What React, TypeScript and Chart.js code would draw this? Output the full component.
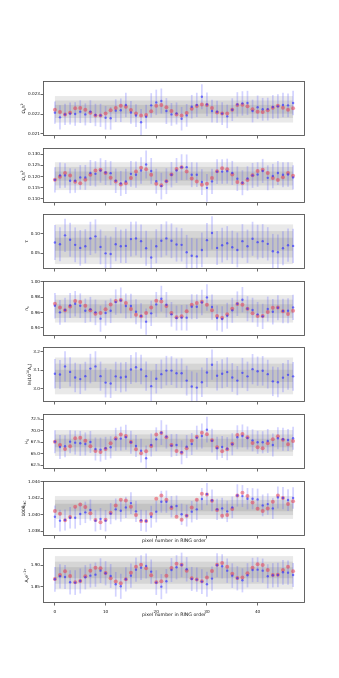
import React, { useEffect, useRef } from 'react';
import { Chart, registerables } from 'chart.js';
Chart.register(...registerables);

const PIXELS = [0,1,2,3,4,5,6,7,8,9,10,11,12,13,14,15,16,17,18,19,20,21,22,23,24,25,26,27,28,29,30,31,32,33,34,35,36,37,38,39,40,41,42,43,44,45,46,47];
const X_TICKS = [0, 10, 20, 30, 40];
const X_LABEL = 'pixel number in RING order';

// Panel 1: Omega_b h^2
const OBH2_BLUE = [0.02207,0.02183,0.02198,0.02202,0.02200,0.02212,0.02198,0.02212,0.02195,0.02193,0.02181,0.02178,0.02217,0.02219,0.02246,0.02208,0.02192,0.02158,0.02186,0.02244,0.02259,0.02266,0.02215,0.02198,0.02203,0.02176,0.02193,0.02237,0.02246,0.02288,0.02249,0.02215,0.02212,0.02202,0.02188,0.02222,0.02249,0.02254,0.02256,0.02215,0.02234,0.02224,0.02225,0.02236,0.02239,0.02246,0.02244,0.02256];
const OBH2_ERR = [0.00057,0.00062,0.00054,0.00056,0.00060,0.00058,0.00056,0.00058,0.00057,0.00059,0.00060,0.00058,0.00058,0.00060,0.00062,0.00058,0.00058,0.00068,0.00061,0.00062,0.00065,0.00064,0.00066,0.00058,0.00056,0.00060,0.00058,0.00060,0.00062,0.00064,0.00060,0.00058,0.00056,0.00058,0.00060,0.00058,0.00062,0.00062,0.00062,0.00058,0.00060,0.00058,0.00058,0.00060,0.00062,0.00062,0.00060,0.00062];
const OBH2_RED = [0.02222,0.02210,0.02198,0.02207,0.02229,0.02230,0.02222,0.02207,0.02193,0.02192,0.02202,0.02219,0.02230,0.02242,0.02237,0.02220,0.02202,0.02192,0.02195,0.02214,0.02242,0.02246,0.02234,0.02215,0.02197,0.02192,0.02205,0.02227,0.02241,0.02249,0.02246,0.02230,0.02208,0.02202,0.02203,0.02222,0.02246,0.02247,0.02239,0.02224,0.02212,0.02210,0.02219,0.02232,0.02242,0.02232,0.02222,0.02229];
const OBH2_TICKS = [0.021, 0.022, 0.023];
const OBH2_BAND = [0.02224, 0.000225];

// Panel 2: Omega_c h^2
const OCH2_BLUE = [0.1185,0.1205,0.1205,0.1181,0.1181,0.1196,0.1196,0.1216,0.1212,0.1227,0.1218,0.1215,0.1181,0.1169,0.1178,0.1212,0.1208,0.1227,0.1254,0.1225,0.1179,0.1157,0.1179,0.1208,0.1227,0.1242,0.1242,0.1208,0.1208,0.1175,0.1149,0.1178,0.1222,0.1222,0.1224,0.1216,0.1190,0.1172,0.1191,0.1205,0.1209,0.1225,0.1194,0.1202,0.1216,0.1208,0.1209,0.1196];
const OCH2_ERR = [0.0057,0.0058,0.0055,0.0056,0.0054,0.0055,0.0056,0.0058,0.0057,0.0055,0.0056,0.0054,0.0055,0.0056,0.0057,0.0058,0.0059,0.0060,0.0063,0.0058,0.0056,0.0060,0.0058,0.0057,0.0056,0.0058,0.0057,0.0056,0.0055,0.0058,0.0062,0.0057,0.0056,0.0055,0.0056,0.0054,0.0055,0.0056,0.0055,0.0056,0.0055,0.0054,0.0056,0.0055,0.0054,0.0056,0.0055,0.0054];
const OCH2_RED = [0.1185,0.1199,0.1216,0.1205,0.1176,0.1170,0.1185,0.1208,0.1227,0.1230,0.1216,0.1194,0.1178,0.1164,0.1170,0.1193,0.1222,0.1239,0.1233,0.1208,0.1167,0.1161,0.1179,0.1209,0.1234,0.1242,0.1222,0.1191,0.1178,0.1163,0.1167,0.1193,0.1224,0.1237,0.1233,0.1209,0.1175,0.1170,0.1184,0.1206,0.1225,0.1230,0.1216,0.1193,0.1184,0.1197,0.1216,0.1203];
const OCH2_TICKS = [0.110, 0.115, 0.120, 0.125, 0.130];
const OCH2_BAND = [0.12016, 0.00209];

// Panel 3: tau
const TAU_BLUE = [0.0772,0.0728,0.0956,0.0842,0.0711,0.0632,0.0675,0.0877,0.0930,0.0658,0.0491,0.0474,0.0728,0.0675,0.0684,0.0860,0.0877,0.0807,0.0623,0.0386,0.0675,0.0816,0.0877,0.0816,0.0719,0.0711,0.0518,0.0430,0.0412,0.0579,0.0833,0.1018,0.0632,0.0702,0.0754,0.0649,0.0579,0.0807,0.0675,0.0868,0.0781,0.0807,0.0737,0.0544,0.0518,0.0623,0.0702,0.0684];
const TAU_ERR = [0.045,0.044,0.043,0.044,0.045,0.046,0.044,0.043,0.044,0.045,0.046,0.045,0.044,0.043,0.044,0.045,0.044,0.043,0.045,0.046,0.044,0.043,0.044,0.045,0.044,0.043,0.045,0.046,0.046,0.045,0.044,0.043,0.044,0.045,0.044,0.043,0.045,0.044,0.043,0.044,0.045,0.044,0.043,0.045,0.046,0.044,0.043,0.044];
const TAU_TICKS = [0.05, 0.10];
const TAU_BAND = [0.0726, 0.0171];

// Panel 4: n_s
const NS_BLUE = [0.9689,0.9603,0.9633,0.9693,0.9715,0.9689,0.9624,0.9642,0.9603,0.9521,0.9594,0.9624,0.9736,0.9758,0.9685,0.9685,0.9611,0.9555,0.9482,0.9590,0.9706,0.9780,0.9702,0.9577,0.9529,0.9534,0.9534,0.9676,0.9676,0.9732,0.9797,0.9672,0.9529,0.9516,0.9559,0.9629,0.9715,0.9767,0.9650,0.9633,0.9577,0.9551,0.9646,0.9611,0.9663,0.9620,0.9624,0.9667];
const NS_ERR = [0.0165,0.0160,0.0158,0.0162,0.0165,0.0160,0.0158,0.0162,0.0166,0.0170,0.0162,0.0160,0.0165,0.0168,0.0162,0.0160,0.0163,0.0165,0.0170,0.0164,0.0162,0.0168,0.0165,0.0160,0.0162,0.0165,0.0168,0.0162,0.0160,0.0166,0.0172,0.0164,0.0162,0.0165,0.0168,0.0162,0.0160,0.0165,0.0163,0.0160,0.0162,0.0164,0.0162,0.0165,0.0163,0.0160,0.0162,0.0164];
const NS_RED = [0.9715,0.9667,0.9629,0.9680,0.9749,0.9736,0.9689,0.9629,0.9585,0.9594,0.9642,0.9706,0.9749,0.9762,0.9724,0.9646,0.9572,0.9551,0.9594,0.9667,0.9754,0.9745,0.9685,0.9594,0.9538,0.9551,0.9616,0.9702,0.9724,0.9741,0.9702,0.9629,0.9555,0.9534,0.9577,0.9650,0.9711,0.9702,0.9650,0.9590,0.9555,0.9555,0.9607,0.9663,0.9667,0.9616,0.9581,0.9624];
const NS_TICKS = [0.94, 0.96, 0.98, 1.00];
const NS_BAND = [0.9649, 0.00596];

// Panel 5: ln(10^10 A_s)
const LNAS_BLUE = [3.080,3.076,3.120,3.090,3.060,3.051,3.067,3.108,3.120,3.067,3.032,3.027,3.066,3.060,3.064,3.103,3.115,3.103,3.067,3.013,3.053,3.078,3.097,3.097,3.083,3.083,3.043,3.011,3.005,3.034,3.087,3.129,3.069,3.080,3.089,3.060,3.043,3.085,3.066,3.105,3.094,3.096,3.078,3.039,3.034,3.059,3.074,3.066];
const LNAS_ERR = [0.080,0.078,0.082,0.079,0.080,0.081,0.078,0.080,0.082,0.079,0.080,0.078,0.079,0.081,0.080,0.078,0.082,0.080,0.079,0.081,0.080,0.079,0.080,0.078,0.079,0.080,0.081,0.082,0.081,0.080,0.079,0.082,0.080,0.079,0.080,0.078,0.079,0.081,0.080,0.082,0.079,0.080,0.078,0.080,0.081,0.079,0.080,0.078];
const LNAS_TICKS = [3.0, 3.1, 3.2];
const LNAS_BAND = [3.0684, 0.0333];

// Panel 6: H_0
const H0_BLUE = [67.64,66.49,66.63,67.64,67.43,67.28,67.14,67.57,66.05,65.91,66.20,66.41,68.15,68.30,68.59,67.50,66.70,65.69,64.02,66.92,68.15,69.60,68.73,66.78,66.92,65.33,66.56,67.14,68.51,68.88,70.25,67.86,66.20,66.49,66.12,67.07,68.59,68.88,68.44,67.93,67.50,67.50,67.79,66.92,68.37,68.15,68.01,68.37];
const H0_ERR = [2.5,2.6,2.4,2.5,2.6,2.7,2.5,2.4,2.5,2.6,2.5,2.4,2.5,2.6,2.7,2.5,2.4,2.6,2.8,2.5,2.6,2.7,2.6,2.5,2.4,2.6,2.5,2.4,2.6,2.7,2.8,2.6,2.5,2.4,2.5,2.4,2.6,2.5,2.5,2.4,2.5,2.4,2.6,2.5,2.4,2.5,2.4,2.5];
const H0_RED = [67.64,66.92,66.05,66.63,68.37,68.51,67.86,66.63,65.62,65.40,66.05,67.28,68.37,69.17,68.88,67.57,65.98,65.11,65.54,66.70,69.17,69.53,68.59,66.92,65.62,65.25,66.20,67.86,68.73,69.60,69.24,67.93,66.41,65.54,65.98,67.21,69.09,69.31,68.59,67.36,66.41,66.20,67.28,68.15,68.80,68.08,67.07,67.79];
const H0_TICKS = [62.5, 65.0, 67.5, 70.0, 72.5];
const H0_BAND = [67.35, 0.94];

// Panel 7: 100 theta_MC
const THETA_BLUE = [1.03977,1.03929,1.03937,1.03965,1.03965,1.04010,1.04030,1.04058,1.03929,1.03949,1.03929,1.04014,1.04066,1.04050,1.04090,1.04142,1.04042,1.03933,1.03925,1.03977,1.04038,1.04159,1.04159,1.04098,1.04106,1.04006,1.03990,1.04038,1.04066,1.04191,1.04251,1.04175,1.04066,1.04078,1.04042,1.04090,1.04235,1.04227,1.04195,1.04195,1.04187,1.04114,1.04130,1.04078,1.04211,1.04203,1.04179,1.04203];
const THETA_ERR = [0.00135,0.00132,0.00128,0.00130,0.00133,0.00135,0.00130,0.00128,0.00130,0.00132,0.00130,0.00128,0.00132,0.00134,0.00130,0.00132,0.00130,0.00128,0.00130,0.00133,0.00130,0.00132,0.00135,0.00130,0.00128,0.00130,0.00132,0.00130,0.00128,0.00133,0.00135,0.00132,0.00130,0.00128,0.00130,0.00132,0.00135,0.00133,0.00130,0.00128,0.00130,0.00132,0.00130,0.00128,0.00133,0.00135,0.00132,0.00130];
const THETA_RED = [1.04046,1.04014,1.03933,1.03973,1.04098,1.04126,1.04094,1.04018,1.03937,1.03909,1.03941,1.04026,1.04114,1.04183,1.04175,1.04098,1.03998,1.03925,1.03925,1.04010,1.04195,1.04235,1.04183,1.04082,1.03977,1.03941,1.03990,1.04090,1.04183,1.04255,1.04247,1.04171,1.04058,1.03990,1.03998,1.04070,1.04235,1.04267,1.04227,1.04150,1.04074,1.04046,1.04078,1.04159,1.04235,1.04203,1.04130,1.04163];
const THETA_TICKS = [1.038, 1.040, 1.042, 1.044];
const THETA_BAND = [1.04089, 0.000463];

// Panel 8: A_s e^{-2tau}
const ASE_BLUE = [1.8677,1.8747,1.8731,1.8608,1.8601,1.8639,1.8724,1.8762,1.8785,1.8877,1.8816,1.8754,1.8562,1.8516,1.8677,1.8762,1.8900,1.8946,1.8985,1.8854,1.8601,1.8508,1.8631,1.8892,1.8954,1.9008,1.8908,1.8685,1.8670,1.8624,1.8562,1.8693,1.9000,1.8977,1.8877,1.8762,1.8700,1.8654,1.8770,1.8892,1.8900,1.8877,1.8747,1.8770,1.8777,1.8839,1.8831,1.8777];
const ASE_ERR = [0.0285,0.0280,0.0275,0.0280,0.0285,0.0290,0.0280,0.0275,0.0280,0.0285,0.0280,0.0275,0.0285,0.0290,0.0280,0.0278,0.0282,0.0285,0.0290,0.0280,0.0285,0.0290,0.0282,0.0278,0.0280,0.0285,0.0282,0.0278,0.0280,0.0285,0.0288,0.0280,0.0278,0.0280,0.0282,0.0285,0.0280,0.0278,0.0280,0.0282,0.0285,0.0280,0.0278,0.0280,0.0282,0.0285,0.0280,0.0278];
const ASE_RED = [1.8685,1.8777,1.8862,1.8754,1.8608,1.8639,1.8747,1.8877,1.8946,1.8931,1.8823,1.8700,1.8624,1.8585,1.8677,1.8831,1.8969,1.9015,1.8931,1.8770,1.8608,1.8631,1.8762,1.8939,1.9038,1.9015,1.8877,1.8700,1.8670,1.8631,1.8716,1.8869,1.9015,1.9054,1.8969,1.8808,1.8708,1.8716,1.8816,1.8946,1.9023,1.9008,1.8892,1.8777,1.8785,1.8892,1.8969,1.8862];
const ASE_TICKS = [1.85, 1.90];
const ASE_BAND = [1.883, 0.0128];

type Seg = [string, number]; // 0 normal, 1 subscript, 2 superscript

interface PanelDef {
  label: Seg[];
  blue: number[];
  err: number[];
  red: number[] | null;
  ticks: number[];
  decimals: number;
  band: number[];
  ymin: number;
  ymax: number;
  top: number;
  xTickLabels: boolean;
  xLabelOffset: number | null;
}

const PANELS: PanelDef[] = [
  { label: [['Ω',0],['b',1],['h',0],['2',2]], blue: OBH2_BLUE, err: OBH2_ERR, red: OBH2_RED, ticks: OBH2_TICKS, decimals: 3, band: OBH2_BAND, ymin: 0.02088, ymax: 0.02368, top: 81, xTickLabels: false, xLabelOffset: null },
  { label: [['Ω',0],['c',1],['h',0],['2',2]], blue: OCH2_BLUE, err: OCH2_ERR, red: OCH2_RED, ticks: OCH2_TICKS, decimals: 3, band: OCH2_BAND, ymin: 0.1081, ymax: 0.1328, top: 148, xTickLabels: false, xLabelOffset: null },
  { label: [['τ',0]], blue: TAU_BLUE, err: TAU_ERR, red: null, ticks: TAU_TICKS, decimals: 2, band: TAU_BAND, ymin: 0.0087, ymax: 0.1508, top: 214, xTickLabels: false, xLabelOffset: null },
  { label: [['n',0],['s',1]], blue: NS_BLUE, err: NS_ERR, red: NS_RED, ticks: NS_TICKS, decimals: 2, band: NS_BAND, ymin: 0.9296, ymax: 1.001, top: 281, xTickLabels: false, xLabelOffset: null },
  { label: [['ln(10',0],['10',2],['A',0],['s',1],[')',0]], blue: LNAS_BLUE, err: LNAS_ERR, red: null, ticks: LNAS_TICKS, decimals: 1, band: LNAS_BAND, ymin: 2.927, ymax: 3.225, top: 347, xTickLabels: false, xLabelOffset: null },
  { label: [['H',0],['0',1]], blue: H0_BLUE, err: H0_ERR, red: H0_RED, ticks: H0_TICKS, decimals: 1, band: H0_BAND, ymin: 61.7, ymax: 73.65, top: 414, xTickLabels: false, xLabelOffset: null },
  { label: [['100θ',0],['MC',1]], blue: THETA_BLUE, err: THETA_ERR, red: THETA_RED, ticks: THETA_TICKS, decimals: 3, band: THETA_BAND, ymin: 1.03743, ymax: 1.0441, top: 481, xTickLabels: false, xLabelOffset: 4.5 },
  { label: [['A',0],['s',1],['e',0],['−2τ',2]], blue: ASE_BLUE, err: ASE_ERR, red: ASE_RED, ticks: ASE_TICKS, decimals: 2, band: ASE_BAND, ymin: 1.813, ymax: 1.94, top: 548, xTickLabels: true, xLabelOffset: 12 },
];

const FONT = '"DejaVu Sans", "Liberation Sans", sans-serif';
const PAD_TOP = 6;
const AX_H = 55;
const AX_LEFT = 43;
const AX_RIGHT = 305;
const W = 339;
const TICK_FONT = 4.2;
const TICK_LEN = 2.5;
const TICK_PAD = 0.5;

function drawRich(ctx: CanvasRenderingContext2D, segs: Seg[], cx: number, cy: number) {
  const base = 4.4, small = 3.2;
  let total = 0;
  const parts = segs.map(([t, k]) => {
    const size = k ? small : base;
    ctx.font = `${size}px ${FONT}`;
    const w = ctx.measureText(t).width;
    total += w;
    return { t, k, size, w };
  });
  let x = cx - total / 2;
  ctx.textAlign = 'left';
  ctx.textBaseline = 'alphabetic';
  for (const p of parts) {
    ctx.font = `${p.size}px ${FONT}`;
    const dy = p.k === 1 ? 1.1 : p.k === 2 ? -1.9 : 0;
    ctx.fillText(p.t, x, cy + dy);
    x += p.w;
  }
}

function Panel({ def }: { def: PanelDef }) {
  const ref = useRef<HTMLCanvasElement | null>(null);
  const xh = def.xTickLabels ? 22 : 12;
  const H = PAD_TOP + AX_H + xh;
  useEffect(() => {
    if (!ref.current) return;
    const mean = def.band[0], sig = def.band[1];
    const decorPlugin = {
      id: 'decor',
      beforeDatasetsDraw(chart: any) {
        const { ctx, chartArea } = chart;
        const xs = chart.scales.x, ys = chart.scales.y;
        ctx.save();
        ctx.beginPath();
        ctx.rect(chartArea.left, chartArea.top, chartArea.right - chartArea.left, chartArea.bottom - chartArea.top);
        ctx.clip();
        const x0 = xs.getPixelForValue(PIXELS[0]);
        const x1 = xs.getPixelForValue(PIXELS[PIXELS.length - 1]);
        for (const k of [3, 2, 1]) {
          const yt = ys.getPixelForValue(mean + k * sig);
          const yb = ys.getPixelForValue(mean - k * sig);
          ctx.fillStyle = 'rgba(0,0,0,0.085)';
          ctx.fillRect(x0, yt, x1 - x0, yb - yt);
        }
        ctx.strokeStyle = 'rgba(70,70,255,0.24)';
        ctx.lineWidth = 1.7;
        for (let i = 0; i < PIXELS.length; i++) {
          const px = xs.getPixelForValue(PIXELS[i]);
          const ya = ys.getPixelForValue(def.blue[i] - def.err[i]);
          const yb = ys.getPixelForValue(def.blue[i] + def.err[i]);
          ctx.beginPath();
          ctx.moveTo(px, ya);
          ctx.lineTo(px, yb);
          ctx.stroke();
        }
        ctx.restore();
      },
      afterDraw(chart: any) {
        const { ctx, chartArea } = chart;
        ctx.save();
        ctx.strokeStyle = '#555';
        ctx.lineWidth = 0.9;
        ctx.strokeRect(Math.round(chartArea.left) + 0.5, Math.round(chartArea.top) + 0.5,
          Math.round(chartArea.right - chartArea.left) - 1, Math.round(chartArea.bottom - chartArea.top) - 1);
        // y label placed to the left of the widest tick label
        ctx.font = `${TICK_FONT}px ${FONT}`;
        let maxW = 0;
        for (const v of def.ticks) maxW = Math.max(maxW, ctx.measureText(v.toFixed(def.decimals)).width);
        const labelX = chartArea.left - TICK_LEN - TICK_PAD - maxW - 4.2;
        ctx.fillStyle = '#111';
        ctx.translate(labelX, (chartArea.top + chartArea.bottom) / 2);
        ctx.rotate(-Math.PI / 2);
        drawRich(ctx, def.label, 0, 1.5);
        ctx.restore();
        if (def.xLabelOffset !== null) {
          ctx.save();
          ctx.fillStyle = '#111';
          ctx.font = `4.7px ${FONT}`;
          ctx.textAlign = 'center';
          ctx.textBaseline = 'middle';
          ctx.fillText(X_LABEL, (chartArea.left + chartArea.right) / 2, chartArea.bottom + def.xLabelOffset);
          ctx.restore();
        }
      },
    };
    const datasets: any[] = [
      {
        data: PIXELS.map((x, i) => ({ x, y: def.blue[i] })),
        pointRadius: 1.2,
        pointBackgroundColor: 'rgba(40,40,255,0.6)',
        pointBorderWidth: 0,
        showLine: false,
      },
    ];
    if (def.red) {
      const red = def.red;
      datasets.push({
        data: PIXELS.map((x, i) => ({ x, y: red[i] })),
        pointRadius: 2.0,
        pointBackgroundColor: 'rgba(235,60,75,0.52)',
        pointBorderWidth: 0,
        showLine: false,
      });
    }
    const chart = new Chart(ref.current, {
      type: 'scatter',
      data: { datasets },
      options: {
        animation: false,
        responsive: false,
        maintainAspectRatio: false,
        devicePixelRatio: 1,
        layout: { padding: { top: PAD_TOP, right: W - AX_RIGHT, bottom: 0, left: 0 } },
        plugins: { legend: { display: false }, tooltip: { enabled: false } },
        scales: {
          x: {
            type: 'linear',
            min: -2.35,
            max: 49.35,
            afterBuildTicks: (s: any) => { s.ticks = X_TICKS.map((v) => ({ value: v })); },
            afterFit: (s: any) => { s.height = xh; },
            grid: { display: true, drawOnChartArea: false, drawTicks: true, tickLength: TICK_LEN, color: '#444', lineWidth: 0.8 },
            border: { display: false },
            ticks: {
              display: def.xTickLabels,
              font: { family: FONT, size: TICK_FONT },
              color: '#111',
              padding: 3.5,
              maxRotation: 0,
              autoSkip: false,
              callback: (v: any) => String(v),
            },
          },
          y: {
            type: 'linear',
            min: def.ymin,
            max: def.ymax,
            afterBuildTicks: (s: any) => { s.ticks = def.ticks.map((v) => ({ value: v })); },
            afterFit: (s: any) => { s.width = AX_LEFT; },
            grid: { display: true, drawOnChartArea: false, drawTicks: true, tickLength: TICK_LEN, color: '#444', lineWidth: 0.8 },
            border: { display: false },
            ticks: {
              font: { family: FONT, size: TICK_FONT },
              color: '#111',
              padding: TICK_PAD,
              autoSkip: false,
              callback: (v: any) => Number(v).toFixed(def.decimals),
            },
          },
        },
      } as any,
      plugins: [decorPlugin as any],
    });
    return () => chart.destroy();
  }, [def, xh]);
  return (
    <canvas
      ref={ref}
      width={W}
      height={H}
      style={{ position: 'absolute', left: 0, top: def.top - PAD_TOP, width: W, height: H }}
    />
  );
}

export default function App() {
  return (
    <div style={{ position: 'absolute', left: 0, top: 0, width: W, height: 678, background: '#fff', overflow: 'hidden' }}>
      {PANELS.map((p, i) => (
        <Panel key={i} def={p} />
      ))}
    </div>
  );
}
